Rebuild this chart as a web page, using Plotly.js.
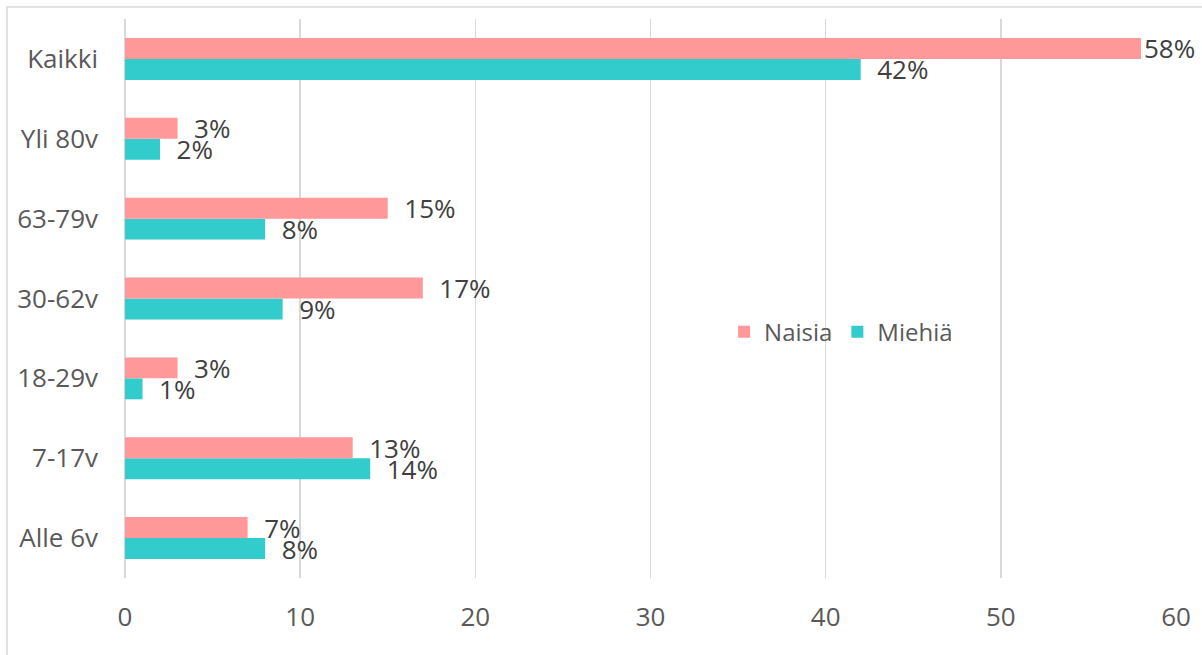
<!DOCTYPE html>
<html>
<head>
<meta charset="utf-8">
<script src="https://cdn.plot.ly/plotly-3.0.1.min.js"></script>
<style>
html,body{margin:0;padding:0;background:#fff;}
#chart{width:1202px;height:655px;}
</style>
</head>
<body>
<div id="chart"></div>
<script>
const categories = ["Alle 6v", "7-17v", "18-29v", "30-62v", "63-79v", "Yli 80v", "Kaikki"];
const naisia = [7, 13, 3, 17, 15, 3, 58];
const miehia = [8, 14, 1, 9, 8, 2, 42];
const seriesNames = ["Naisia", "Miehiä"];
const xTicks = [0, 10, 20, 30, 40, 50, 60];

const pad = "\u00a0\u00a0";
function labels(vals, isTopEdge) {
  return vals.map((v, i) => (categories[i] === "Kaikki" && isTopEdge ? "" : pad) + v + "%");
}

const labelFont = {family: "Open Sans, Noto Sans, sans-serif", size: 26, color: "#404040"};

const traceM = {
  type: "bar", orientation: "h", name: seriesNames[1],
  y: categories, x: miehia,
  text: labels(miehia, false), texttemplate: "%{text}",
  textposition: "outside", cliponaxis: false, constraintext: "none",
  textfont: labelFont, outsidetextfont: labelFont,
  marker: {color: "#33CCCC"}, legendrank: 2, hoverinfo: "x+y"
};
const traceN = {
  type: "bar", orientation: "h", name: seriesNames[0],
  y: categories, x: naisia,
  text: labels(naisia, true), texttemplate: "%{text}",
  textposition: "outside", cliponaxis: false, constraintext: "none",
  textfont: labelFont, outsidetextfont: labelFont,
  marker: {color: "#FF9999"}, legendrank: 1, hoverinfo: "x+y"
};

const layout = {
  width: 1202, height: 655,
  margin: {l: 125, r: 26, t: 19, b: 77, pad: 0},
  paper_bgcolor: "#ffffff", plot_bgcolor: "#ffffff",
  font: {family: "Open Sans, Noto Sans, sans-serif", color: "#595959", size: 26},
  barmode: "group", bargap: 0.475, bargroupgap: 0,
  showlegend: true,
  legend: {
    orientation: "h", x: 0.570, y: 0.44, xanchor: "left", yanchor: "middle",
    font: {size: 24, color: "#595959"}, bgcolor: "rgba(0,0,0,0)",
    itemwidth: 30, tracegroupgap: 0
  },
  xaxis: {
    range: [0, 60], tickvals: xTicks, ticktext: xTicks.map(String),
    showgrid: true, gridcolor: "#d9d9d9", gridwidth: 1.5,
    zeroline: true, zerolinecolor: "#d9d9d9", zerolinewidth: 1.5,
    showline: false, ticks: "", ticklabelstandoff: 21,
    tickfont: {size: 26, color: "#595959"}, fixedrange: true
  },
  yaxis: {
    type: "category", categoryorder: "array", categoryarray: categories,
    showgrid: false, zeroline: false, showline: false, ticks: "",
    ticklabelstandoff: 26, tickfont: {size: 26, color: "#595959"}, fixedrange: true
  },
  shapes: [{
    type: "rect", xref: "paper", yref: "paper",
    x0: -0.1123, x1: 1.03, y0: -0.15, y1: 1.0215,
    line: {color: "#d9d9d9", width: 1.5}, fillcolor: "rgba(0,0,0,0)", layer: "below"
  }]
};

Plotly.newPlot("chart", [traceM, traceN], layout, {displayModeBar: false, staticPlot: true});
</script>
</body>
</html>
